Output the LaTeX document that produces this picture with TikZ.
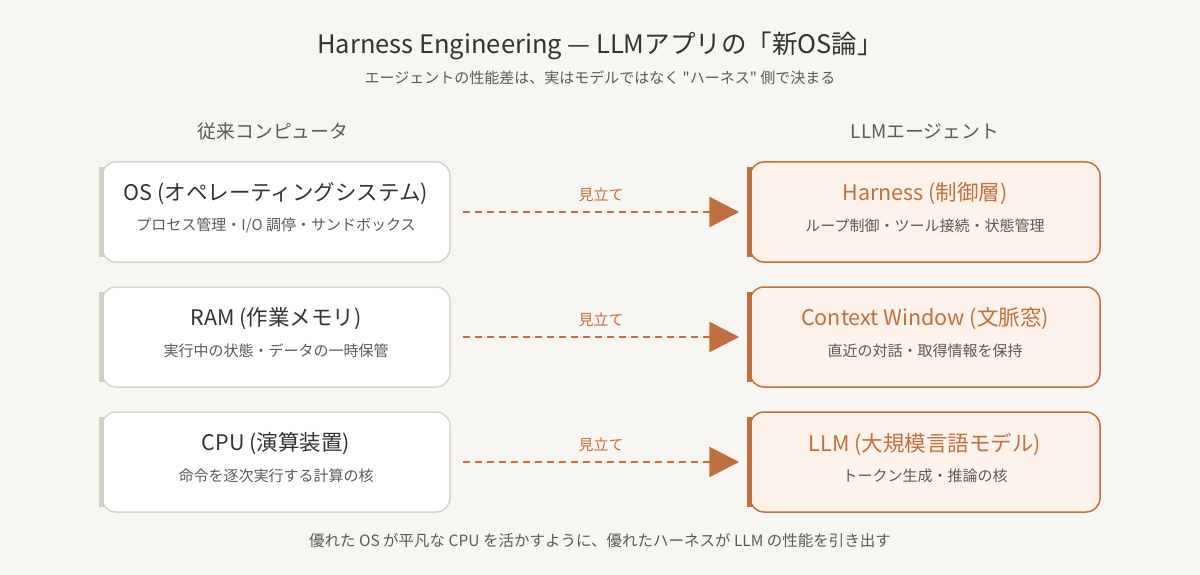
\documentclass[tikz,border=0pt]{standalone}
\usepackage{fontspec}
\setmainfont{Noto Sans CJK JP}
\usetikzlibrary{arrows.meta,positioning}
\definecolor{bg}{HTML}{F8F6F2}
\definecolor{oldline}{HTML}{D9D5CD}
\definecolor{oldbar}{HTML}{D3CEC3}
\definecolor{newline}{HTML}{C0703F}
\definecolor{newfill}{HTML}{FDF3EA}
\definecolor{ink}{HTML}{333333}
\definecolor{grey}{HTML}{5A5A5A}
\tikzset{
  oldbox/.style={draw=oldline,line width=1.5pt,fill=white,rounded corners=14pt,minimum width=348pt,minimum height=100pt},
  newbox/.style={draw=newline,line width=1.5pt,fill=newfill,rounded corners=14pt,minimum width=350pt,minimum height=100pt},
  head/.style={font=\fontsize{21.5}{26}\selectfont},
  sub/.style={font=\fontsize{15}{18}\selectfont,text=grey},
  link/.style={newline,line width=2.8pt,dash pattern=on 7pt off 5pt,-{Triangle[length=30pt,width=30pt]}},
}
\begin{document}
\begin{tikzpicture}[x=1pt,y=-1pt]
  \fill[bg](0,0)rectangle(1200,575);
  \useasboundingbox(0,0)rectangle(1200,575);
  %title
  \node[font=\fontsize{25.5}{30}\selectfont,text=ink] (title) at (600,46){Harness Engineering — LLMアプリの「新OS論」};
  \node[sub] (subtitle) at (600,78){エージェントの性能差は、実はモデルではなく \textquotedbl ハーネス\textquotedbl\ 側で決まる};
  \node[font=\fontsize{18.8}{22}\selectfont,text=grey] (lefthead) at (273,131){従来コンピュータ};
  \node[font=\fontsize{18.8}{22}\selectfont,text=grey] (righthead) at (925,131){LLMエージェント};
  %rows
  \foreach \y/\la/\lb/\ra/\rb [count=\i] in {
    212/OS (オペレーティングシステム)/{プロセス管理・I/O 調停・サンドボックス}/Harness (制御層)/ループ制御・ツール接続・状態管理,
    337/RAM (作業メモリ)/実行中の状態・データの一時保管/Context Window (文脈窓)/直近の対話・取得情報を保持,
    462/CPU (演算装置)/命令を逐次実行する計算の核/LLM (大規模言語モデル)/トークン生成・推論の核}{
    \node[oldbox] (old\i) at (276,\y){};
    \draw[oldbar,line width=5pt](old\i.north west)++(0,6)--([yshift=6pt]old\i.south west);
    \node[head,text=ink] at (276,\y-18){\la};
    \node[sub] at (276,\y+14){\lb};
    \node[newbox] (new\i) at (925,\y){};
    \draw[newline,line width=5pt](new\i.north west)++(0,6)--([yshift=6pt]new\i.south west);
    \node[head,text=newline] at (925,\y-18){\ra};
    \node[sub] at (925,\y+14){\rb};
    \draw[link]([xshift=12pt]old\i.east)--([xshift=-10pt]new\i.west)node[midway,above=6pt,font=\fontsize{15}{18}\selectfont,text=newline]{見立て};
  }
  \node[font=\fontsize{15.5}{18}\selectfont,text=grey] (footer) at (600,541){優れた OS が平凡な CPU を活かすように、優れたハーネスが LLM の性能を引き出す};
\end{tikzpicture}
\end{document}
